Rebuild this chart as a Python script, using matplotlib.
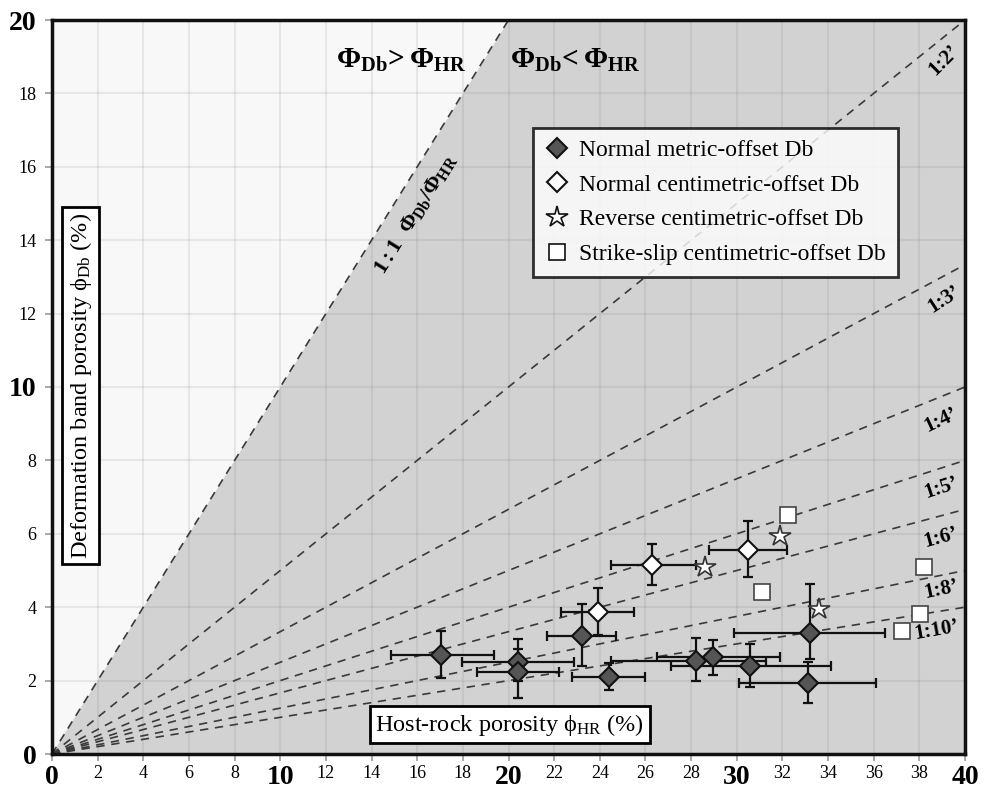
import numpy as np
import matplotlib
matplotlib.use("Agg")
import matplotlib.pyplot as plt
from matplotlib.lines import Line2D

plt.rcParams['font.family'] = ['Liberation Serif', 'DejaVu Serif']
plt.rcParams['mathtext.fontset'] = 'custom'
plt.rcParams['mathtext.rm'] = 'Liberation Serif'
plt.rcParams['mathtext.it'] = 'Liberation Serif'
plt.rcParams['mathtext.bf'] = 'Liberation Serif:bold'

# ---------------- data ----------------
# Normal metric-offset Db (x, y and error-bar ends)
metric_x    = [17.05, 20.4, 20.4, 23.2, 24.4, 28.2, 28.95, 30.6, 33.2, 33.1]
metric_y    = [2.70, 2.52, 2.24, 3.22, 2.11, 2.53, 2.65, 2.41, 3.29, 1.93]
metric_xmin = [14.85, 17.95, 18.6, 21.7, 22.8, 24.5, 26.5, 27.1, 29.9, 30.1]
metric_xmax = [19.35, 22.85, 22.2, 24.7, 26.0, 31.3, 31.9, 34.15, 36.5, 36.1]
metric_ymin = [2.07, 2.0, 1.53, 2.40, 1.74, 1.99, 2.15, 1.83, 2.6, 1.40]
metric_ymax = [3.36, 3.13, 2.85, 4.09, 2.49, 3.17, 3.1, 3.0, 4.63, 2.5]

# Normal centimetric-offset Db
centi_x    = [23.9, 26.3, 30.5]
centi_y    = [3.86, 5.15, 5.56]
centi_xmin = [22.3, 24.5, 28.8]
centi_xmax = [25.5, 28.2, 32.2]
centi_ymin = [3.24, 4.6, 4.82]
centi_ymax = [4.53, 5.72, 6.35]

# Reverse centimetric-offset Db
reverse_x = [28.6, 31.9, 33.6]
reverse_y = [5.09, 5.94, 3.94]

# Strike-slip centimetric-offset Db
strike_x = [32.25, 31.1, 38.2, 38.05, 37.25]
strike_y = [6.51, 4.41, 5.09, 3.81, 3.36]

# porosity ratio lines (1:n)
ratios = [1, 2, 3, 4, 5, 6, 8, 10]
ratio_labels = ["1:2\u2019", "1:3\u2019", "1:4\u2019", "1:5\u2019", "1:6\u2019", "1:8\u2019", "1:10\u2019"]
ratio_label_x = [39.1, 39.1, 38.95, 38.95, 38.95, 38.95, 38.75]
ratio_label_y = [18.9, 12.4, 9.1, 7.25, 5.9, 4.47, 3.38]
ratio_label_rot = [45, 33, 25, 18, 15, 12, 10]

xticks = list(range(0, 41, 2))
yticks = list(range(0, 21, 2))

legend_labels = ["Normal metric-offset Db", "Normal centimetric-offset Db",
                 "Reverse centimetric-offset Db", "Strike-slip centimetric-offset Db"]

# ---------------- figure ----------------
W, H = 985, 794
fig = plt.figure(figsize=(W/100, H/100), dpi=100)
ax_l, ax_b, ax_w, ax_h = 52, 40, 913, 734
ax = fig.add_axes([ax_l/W, ax_b/H, ax_w/W, ax_h/H])
XMAX, YMAX = 40, 20
ax.set_xlim(0, XMAX)
ax.set_ylim(0, YMAX)
aspect = (ax_h / YMAX) / (ax_w / XMAX)   # screen px per y-unit / px per x-unit

def screen_angle(slope):
    return np.degrees(np.arctan(slope * aspect))

# background regions
ax.fill([0, YMAX, 0], [0, YMAX, YMAX], color='#f8f8f8', lw=0, zorder=0)
ax.fill([0, XMAX, XMAX, YMAX], [0, 0, YMAX, YMAX], color='#d2d2d2', lw=0, zorder=0)

# grid
for xv in xticks[1:-1]:
    ax.axvline(xv, color='#808080', alpha=0.15, lw=1.5, zorder=1)
for yv in yticks[1:-1]:
    ax.axhline(yv, color='#808080', alpha=0.15, lw=1.5, zorder=1)

# ratio lines
for r in ratios:
    xe = min(XMAX, YMAX * r)
    ax.plot([0, xe], [0, xe / r], ls=(0, (5, 4)), color='#3a3a3a', lw=1.2, zorder=2)

for lab, lx, ly, rot in zip(ratio_labels, ratio_label_x, ratio_label_y, ratio_label_rot):
    ax.text(lx, ly, lab, fontsize=15, fontweight='bold', ha='center', va='center',
            rotation=rot, rotation_mode='anchor', zorder=5)

ax.text(15.9, 14.7, r'$\mathbf{1{:}1\ \ \Phi_{Db}/\Phi_{HR}}$', fontsize=16,
        ha='center', va='center', rotation=screen_angle(1.0),
        rotation_mode='anchor', zorder=5)

ax.text(15.3, 18.9, r'$\mathbf{\Phi_{Db}\!>\Phi_{HR}}$', fontsize=21, ha='center', va='center', zorder=5)
ax.text(22.9, 18.9, r'$\mathbf{\Phi_{Db}\!<\Phi_{HR}}$', fontsize=21, ha='center', va='center', zorder=5)

# error bars
def asym(c, lo, hi):
    c = np.asarray(c); return [c - np.asarray(lo), np.asarray(hi) - c]

ax.errorbar(metric_x, metric_y, xerr=asym(metric_x, metric_xmin, metric_xmax),
            yerr=asym(metric_y, metric_ymin, metric_ymax), fmt='none',
            ecolor='#111111', elinewidth=1.6, capsize=3.5, capthick=1.6, zorder=3)
ax.errorbar(centi_x, centi_y, xerr=asym(centi_x, centi_xmin, centi_xmax),
            yerr=asym(centi_y, centi_ymin, centi_ymax), fmt='none',
            ecolor='#111111', elinewidth=1.6, capsize=3.5, capthick=1.6, zorder=3)

# markers
ax.plot(metric_x, metric_y, 'D', ms=10.5, mfc='#555555', mec='#111111', mew=1.5, ls='none', zorder=4)
ax.plot(centi_x, centi_y, 'D', ms=10.5, mfc='white', mec='#111111', mew=1.5, ls='none', zorder=4)
ax.plot(reverse_x, reverse_y, '*', ms=16, mfc='white', mec='#333333', mew=1.2, ls='none', zorder=4)
ax.plot(strike_x, strike_y, 's', ms=12, mfc='white', mec='#444444', mew=1.2, ls='none', zorder=4)

# axis-label boxes inside the plot
box = dict(boxstyle='square,pad=0.22', fc='white', ec='black', lw=2)
ax.text(1.25, 10.03, r'Deformation band porosity $\phi_{\mathrm{Db}}$ (%)', fontsize=17.5,
        rotation=90, ha='center', va='center', bbox=box, zorder=6)
ax.text(20.06, 0.8, r'Host-rock porosity $\phi_{\mathrm{HR}}$ (%)', fontsize=17.5,
        ha='center', va='center', bbox=box, zorder=6)

# legend
handles = [
    Line2D([], [], marker='D', ls='none', ms=10, mfc='#555555', mec='#111111', mew=1.5),
    Line2D([], [], marker='D', ls='none', ms=10, mfc='white', mec='#111111', mew=1.5),
    Line2D([], [], marker='*', ls='none', ms=16, mfc='white', mec='#111111', mew=1.2),
    Line2D([], [], marker='s', ls='none', ms=12, mfc='white', mec='#111111', mew=1.2),
]
leg = ax.legend(handles, legend_labels, loc='upper right', bbox_to_anchor=(0.9266, 0.853),
                borderaxespad=0, fontsize=17, frameon=True, fancybox=False,
                handlelength=1.0, handletextpad=0.45, labelspacing=0.55, borderpad=0.5)
leg.get_frame().set_edgecolor('black')
leg.get_frame().set_linewidth(2)
leg.set_zorder(7)

# ticks
ax.set_xticks(xticks)
ax.set_yticks(yticks)
ax.set_xticklabels([str(v) for v in xticks])
ax.set_yticklabels([str(v) for v in yticks])
for lab, v in zip(ax.get_xticklabels(), xticks):
    if v % 10 == 0:
        lab.set_fontsize(20); lab.set_fontweight('bold')
    else:
        lab.set_fontsize(13)
for lab, v in zip(ax.get_yticklabels(), yticks):
    if v % 10 == 0:
        lab.set_fontsize(20); lab.set_fontweight('bold')
    else:
        lab.set_fontsize(13)
ax.tick_params(axis='x', direction='out', length=5, color='#999999', width=1.2, pad=3)
ax.tick_params(axis='y', direction='out', length=5, color='#999999', width=1.2, pad=6)

for sp in ax.spines.values():
    sp.set_linewidth(2.5)
    sp.set_color('#111111')
    sp.set_zorder(8)

fig.savefig('out.png', dpi=100)
